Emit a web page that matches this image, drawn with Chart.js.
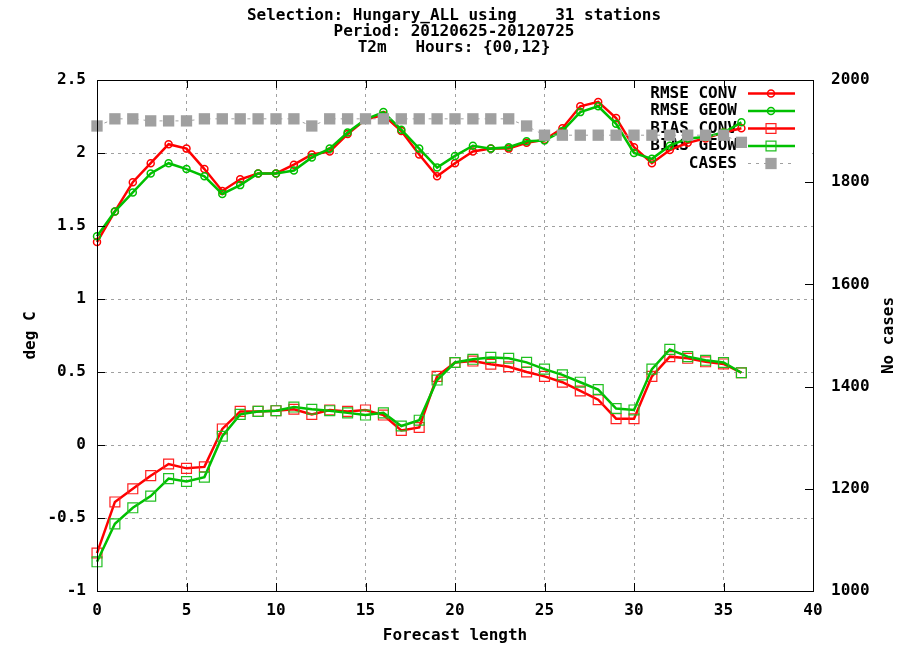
<!DOCTYPE html>
<html>
<head>
<meta charset="utf-8">
<title>Hungary_ALL T2m scores</title>
<script src="https://cdn.jsdelivr.net/npm/chart.js@4.4.0/dist/chart.umd.min.js"></script>
<style>
  body { margin: 0; background: #fff; }
  #wrap { width: 908px; height: 645px; }
</style>
</head>
<body>
<div id="wrap"><canvas id="chart" width="908" height="645"></canvas></div>
<script>
const titleLines = [
  "Selection: Hungary_ALL using    31 stations",
  "Period: 20120625-20120725",
  "T2m   Hours: {00,12}"
];

const forecastLength = [0, 1, 2, 3, 4, 5, 6, 7, 8, 9, 10, 11, 12, 13, 14, 15, 16, 17, 18,
  19, 20, 21, 22, 23, 24, 25, 26, 27, 28, 29, 30, 31, 32, 33, 34, 35, 36];

const rmseConv = [1.39, 1.60, 1.80, 1.93, 2.06, 2.03, 1.89, 1.74, 1.82, 1.86, 1.86, 1.92,
  1.99, 2.01, 2.13, 2.23, 2.26, 2.15, 1.99, 1.84, 1.93, 2.01, 2.03, 2.03, 2.07, 2.09,
  2.17, 2.32, 2.35, 2.24, 2.04, 1.93, 2.02, 2.07, 2.10, 2.14, 2.17];

const rmseGeow = [1.43, 1.60, 1.73, 1.86, 1.93, 1.89, 1.84, 1.72, 1.78, 1.86, 1.86, 1.88,
  1.97, 2.03, 2.14, 2.23, 2.28, 2.16, 2.03, 1.90, 1.98, 2.05, 2.03, 2.04, 2.08, 2.085,
  2.15, 2.28, 2.32, 2.20, 2.00, 1.96, 2.05, 2.10, 2.11, 2.14, 2.21];

const biasConv = [-0.74, -0.39, -0.30, -0.21, -0.13, -0.16, -0.15, 0.11, 0.23, 0.23, 0.235,
  0.245, 0.21, 0.24, 0.23, 0.24, 0.205, 0.10, 0.12, 0.47, 0.565, 0.575, 0.553, 0.536,
  0.50, 0.47, 0.43, 0.37, 0.31, 0.18, 0.18, 0.47, 0.605, 0.594, 0.57, 0.555, 0.495];

const biasGeow = [-0.80, -0.54, -0.43, -0.35, -0.23, -0.25, -0.22, 0.06, 0.21, 0.23, 0.235,
  0.26, 0.245, 0.235, 0.22, 0.205, 0.22, 0.13, 0.17, 0.445, 0.565, 0.587, 0.60, 0.594,
  0.566, 0.52, 0.48, 0.43, 0.38, 0.25, 0.24, 0.52, 0.655, 0.605, 0.58, 0.565, 0.495];

const cases = [1910, 1924, 1924, 1920, 1920, 1920, 1924, 1924, 1924, 1924, 1924, 1924,
  1910, 1924, 1924, 1924, 1924, 1924, 1924, 1924, 1924, 1924, 1924, 1924, 1910, 1892,
  1892, 1892, 1892, 1892, 1892, 1892, 1892, 1892, 1892, 1892, 1878];

const xTickValues = [0, 5, 10, 15, 20, 25, 30, 35, 40];
const leftTickValues = [-1, -0.5, 0, 0.5, 1, 1.5, 2, 2.5];
const rightTickValues = [1000, 1200, 1400, 1600, 1800, 2000];

const FONT_FAMILY = "'DejaVu Sans Mono', 'Liberation Mono', monospace";
const FONT_CSS = "bold 16px " + FONT_FAMILY;
const monoFont = { family: FONT_FAMILY, size: 16, weight: "bold" };
const gridGray = "#a0a0a0";

function pairs(values) {
  return forecastLength.map(function (x, i) { return { x: x, y: values[i] }; });
}

function fixedTicks(values) {
  return function (scale) {
    scale.ticks = values.map(function (v) { return { value: v }; });
  };
}

// gnuplot-like frame, inward tics, key and texts
const gnuplotFrame = {
  id: "gnuplotFrame",
  beforeDatasetsDraw(chart) {
    const ctx = chart.ctx;
    const area = chart.chartArea;
    const textRight = area.right - 76;
    ctx.save();
    // key area hides the grid, the data still goes over it
    ctx.fillStyle = "#fff";
    ctx.fillRect(area.right - 183, area.top + 1, 182, 89);
    ctx.font = FONT_CSS;
    ctx.textAlign = "right";
    ctx.textBaseline = "middle";
    chart.data.datasets.forEach(function (ds, i) {
      const y = area.top + 13.5 + i * 17.5;
      ctx.fillStyle = "#000";
      ctx.fillText(ds.label, textRight, y);
      ctx.strokeStyle = ds.borderColor;
      ctx.lineWidth = ds.borderWidth;
      ctx.setLineDash(ds.borderDash || []);
      ctx.beginPath();
      ctx.moveTo(textRight + 11, y);
      ctx.lineTo(textRight + 58, y);
      ctx.stroke();
      ctx.setLineDash([]);
      ctx.fillStyle = ds.pointBackgroundColor;
      ctx.strokeStyle = ds.pointBorderColor;
      ctx.lineWidth = ds.pointBorderWidth;
      Chart.helpers.drawPoint(ctx, {
        pointStyle: ds.pointStyle,
        radius: ds.pointRadius,
        borderWidth: ds.pointBorderWidth,
        rotation: 0
      }, textRight + 34, y);
    });
    ctx.restore();
  },
  afterDraw(chart) {
    const ctx = chart.ctx;
    const area = chart.chartArea;
    const tic = 8;
    ctx.save();
    ctx.strokeStyle = "#000";
    ctx.lineWidth = 1;
    ctx.strokeRect(Math.round(area.left) + 0.5, Math.round(area.top) + 0.5,
      Math.round(area.right - area.left), Math.round(area.bottom - area.top));

    ctx.beginPath();
    chart.scales.x.ticks.forEach(function (t) {
      const px = Math.round(chart.scales.x.getPixelForValue(t.value)) + 0.5;
      ctx.moveTo(px, area.bottom); ctx.lineTo(px, area.bottom - tic);
      ctx.moveTo(px, area.top); ctx.lineTo(px, area.top + tic);
    });
    chart.scales.y.ticks.forEach(function (t) {
      const py = Math.round(chart.scales.y.getPixelForValue(t.value)) + 0.5;
      ctx.moveTo(area.left, py); ctx.lineTo(area.left + tic, py);
    });
    chart.scales.y2.ticks.forEach(function (t) {
      const py = Math.round(chart.scales.y2.getPixelForValue(t.value)) + 0.5;
      ctx.moveTo(area.right, py); ctx.lineTo(area.right - tic, py);
    });
    ctx.stroke();

    ctx.fillStyle = "#000";
    ctx.font = FONT_CSS;
    ctx.textAlign = "center";
    ctx.textBaseline = "middle";
    titleLines.forEach(function (line, i) {
      ctx.fillText(line, chart.width / 2, 15.5 + i * 16);
    });

    ctx.translate(889, (area.top + area.bottom) / 2);
    ctx.rotate(-Math.PI / 2);
    ctx.fillText("No cases", 0, 0);
    ctx.restore();
  }
};

const ctx = document.getElementById("chart").getContext("2d");

new Chart(ctx, {
  type: "line",
  data: {
    datasets: [
      {
        label: "RMSE CONV",
        data: pairs(rmseConv),
        yAxisID: "y",
        borderColor: "#ff0000",
        borderWidth: 2.5,
        pointStyle: "circle",
        pointRadius: 3.5,
        pointBorderWidth: 1.5,
        pointBackgroundColor: "rgba(0,0,0,0)",
        pointBorderColor: "#ff0000",
        order: 4
      },
      {
        label: "RMSE GEOW",
        data: pairs(rmseGeow),
        yAxisID: "y",
        borderColor: "#00c000",
        borderWidth: 2.5,
        pointStyle: "circle",
        pointRadius: 3.5,
        pointBorderWidth: 1.5,
        pointBackgroundColor: "rgba(0,0,0,0)",
        pointBorderColor: "#00c000",
        order: 2
      },
      {
        label: "BIAS CONV",
        data: pairs(biasConv),
        yAxisID: "y",
        borderColor: "#ff0000",
        borderWidth: 2.5,
        pointStyle: "rect",
        pointRadius: 7,
        pointBorderWidth: 1.2,
        pointBackgroundColor: "rgba(0,0,0,0)",
        pointBorderColor: "#ff2020",
        order: 3
      },
      {
        label: "BIAS GEOW",
        data: pairs(biasGeow),
        yAxisID: "y",
        borderColor: "#00c000",
        borderWidth: 2.5,
        pointStyle: "rect",
        pointRadius: 7,
        pointBorderWidth: 1.2,
        pointBackgroundColor: "rgba(0,0,0,0)",
        pointBorderColor: "#20c020",
        order: 1
      },
      {
        label: "CASES",
        data: pairs(cases),
        yAxisID: "y2",
        borderColor: gridGray,
        borderWidth: 1,
        borderDash: [3, 5],
        pointStyle: "rect",
        pointRadius: 8,
        pointBorderWidth: 0,
        pointBackgroundColor: gridGray,
        pointBorderColor: gridGray,
        order: 0
      }
    ]
  },
  options: {
    responsive: false,
    animation: false,
    devicePixelRatio: 1,
    events: [],
    layout: { padding: { top: 80, left: 0, right: 0, bottom: 0 } },
    elements: { line: { tension: 0 } },
    datasets: { line: { clip: false } },
    plugins: {
      legend: { display: false },
      title: { display: false },
      tooltip: { enabled: false }
    },
    scales: {
      x: {
        type: "linear",
        min: 0,
        max: 40,
        afterBuildTicks: fixedTicks(xTickValues),
        afterFit: function (s) { s.height = 54; },
        ticks: { font: monoFont, color: "#000", padding: 10, maxRotation: 0 },
        grid: { color: gridGray, drawTicks: false },
        border: { display: false, dash: [3, 4] },
        title: {
          display: true,
          text: "Forecast length",
          font: monoFont,
          color: "#000",
          padding: { top: 0, bottom: 0 }
        }
      },
      y: {
        type: "linear",
        position: "left",
        min: -1,
        max: 2.5,
        afterBuildTicks: fixedTicks(leftTickValues),
        afterFit: function (s) { s.width = 97; },
        ticks: {
          font: monoFont,
          color: "#000",
          padding: 11,
          callback: function (v) { return String(v); }
        },
        grid: { color: gridGray, drawTicks: false },
        border: { display: false, dash: [3, 4] },
        title: {
          display: true,
          text: "deg C",
          font: monoFont,
          color: "#000",
          padding: { top: 21, bottom: 0 }
        }
      },
      y2: {
        type: "linear",
        position: "right",
        min: 1000,
        max: 2000,
        afterBuildTicks: fixedTicks(rightTickValues),
        afterFit: function (s) { s.width = 95; },
        ticks: {
          font: monoFont,
          color: "#000",
          padding: 18,
          callback: function (v) { return String(v); }
        },
        grid: { display: false, drawTicks: false },
        border: { display: false }
      }
    }
  },
  plugins: [gnuplotFrame]
});
</script>
</body>
</html>
